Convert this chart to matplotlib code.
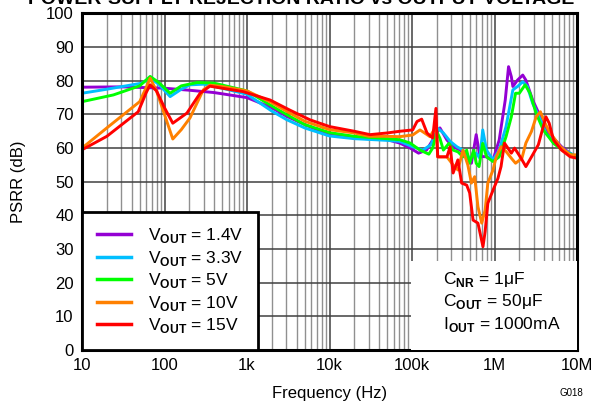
import numpy as np
import matplotlib
matplotlib.use('Agg')
import matplotlib.pyplot as plt
from matplotlib.patches import Rectangle

plt.rcParams['font.family'] = ['Liberation Sans', 'DejaVu Sans']
plt.rcParams['mathtext.fontset'] = 'custom'
plt.rcParams['mathtext.rm'] = 'Liberation Sans'
plt.rcParams['mathtext.bf'] = 'Liberation Sans:bold'

# ---- data (frequency in Hz, PSRR in dB) ----
f_14 = [10, 30, 100, 200, 400, 1e3, 2e3, 3e3, 5e3, 7e3, 1e4, 2e4, 5e4, 7.1e4, 9.5e4,
        1.2e5, 1.5e5, 1.78e5, 2.18e5, 2.65e5, 3.15e5, 3.85e5, 4.6e5, 5.25e5, 6e5, 6.6e5,
        7.2e5, 8e5, 9.6e5, 1.14e6, 1.35e6, 1.48e6, 1.6e6, 1.67e6, 1.9e6, 2.2e6, 2.4e6,
        2.9e6, 3.6e6, 4.2e6, 5.2e6, 6.5e6, 8.3e6, 1e7]
db_14 = [78.1, 78.2, 77.8, 77.2, 76.5, 75, 72, 69.5, 67, 65.5, 64, 63, 62.5, 61.5, 60,
         58.5, 59.4, 62.4, 66, 62.4, 60.4, 59.4, 57.4, 55.5, 64, 58,
         57.5, 57.4, 56.5, 62.4, 74.3, 84.2, 81.2, 78.3, 80.2, 81.7, 80.2,
         74.3, 69.3, 65.4, 62.9, 60.4, 58.4, 57.4]

f_33 = [10, 20, 53, 67, 85, 117, 160, 204, 300, 500, 1e3, 2e3, 3e3, 5e3, 1e4, 2e4, 5e4,
        7.1e4, 1.02e5, 1.35e5, 1.7e5, 2.05e5, 2.4e5, 2.9e5, 3.5e5, 4.15e5, 5e5, 6e5, 6.65e5,
        7.2e5, 8e5, 9.6e5, 1.14e6, 1.38e6, 1.67e6, 1.9e6, 2.2e6, 2.5e6, 2.9e6, 3.6e6,
        4.2e6, 5.2e6, 7e6, 1e7]
db_33 = [76.3, 77.5, 79.3, 80.8, 79, 75.3, 77.5, 78.8, 79, 77.8, 76, 71, 68.5, 66, 63.6, 62.8, 62.3,
         62, 60.4, 59.4, 61, 65.9, 64.5, 62, 60.4, 59.4, 57, 58.5, 57,
         65.4, 59.4, 56.5, 59.4, 66.4, 77.3, 78.3, 79.7, 78.3, 73.3, 68.4,
         64.4, 62, 59.4, 57.4]

f_5 = [10, 24, 50, 67, 85, 117, 160, 250, 400, 1e3, 2e3, 3e3, 5e3, 1e4, 2e4, 5e4, 7.1e4,
       9.5e4, 1.25e5, 1.6e5, 1.78e5, 2e5, 2.18e5, 2.4e5, 2.8e5, 3.15e5, 3.6e5, 4.15e5, 4.6e5,
       5e5, 5.6e5, 6e5, 6.5e5, 7.2e5, 8e5, 9.6e5, 1.14e6, 1.38e6, 1.6e6, 1.8e6, 2.0e6,
       2.35e6, 2.7e6, 3.2e6, 3.9e6, 5.2e6, 7e6, 1e7]
db_5 = [73.8, 75.8, 78.5, 81.3, 79.5, 76.3, 78.5, 79.5, 79.3, 77, 72.5, 70, 67, 64.6, 63.5, 62.8, 62.5,
        61.5, 59.4, 58.2, 60, 64.9, 62.9, 59.4, 61.4, 59.4, 58.9, 57.4, 59.4,
        55.5, 59.4, 55.5, 54.5, 61.4, 57.4, 56, 57.4, 63.4, 69.3, 76.3, 76.3,
        78.8, 76.3, 70.3, 65.4, 61.4, 59, 57.4]

f_10 = [10, 20, 50, 60, 67, 80, 100, 126, 160, 204, 295, 355, 500, 1e3, 2e3, 3e3, 5e3, 1e4,
        2e4, 3e4, 5e4, 7.1e4, 1.02e5, 1.25e5, 1.42e5, 1.65e5, 1.95e5, 2.05e5, 2.65e5, 3.15e5,
        3.6e5, 4.15e5, 4.75e5, 5.25e5, 5.75e5, 6.3e5, 7e5, 7.7e5, 8.3e5, 9.6e5, 1.05e6,
        1.2e6, 1.38e6, 1.6e6, 1.8e6, 2.15e6, 2.4e6, 2.8e6, 3.2e6, 3.6e6, 4.1e6, 4.6e6,
        6.3e6, 8.3e6, 1e7]
db_10 = [60, 66, 73.8, 78, 80.8, 77, 70, 62.7, 65.5, 69, 77.3, 78.7, 78.3, 77, 73.5, 71, 68, 65.5,
         64.5, 63.5, 63.5, 63.4, 63.9, 65.4, 64.5, 63.4, 66.4, 57.4, 57.4, 55,
         53.5, 59.4, 55, 49.6, 51.5, 42.6, 37.7, 41.6, 49.6, 53.5, 57.4,
         60.4, 59, 57, 55.5, 57, 61.5, 64.9, 69.3, 70.8, 67.4, 64.9,
         60.4, 58, 58]

f_15 = [10, 20, 48, 60, 67, 80, 100, 126, 187, 270, 355, 890, 1.9e3, 3.3e3, 5.8e3, 1e4, 2e4,
        3.1e4, 5e4, 7.1e4, 1.02e5, 1.15e5, 1.31e5, 1.52e5, 1.78e5, 1.95e5, 2.05e5, 2.65e5,
        2.9e5, 3.15e5, 3.6e5, 4e5, 4.6e5, 5e5, 5.5e5, 6.3e5, 7.25e5, 7.7e5, 8.3e5, 9.6e5,
        1.1e6, 1.2e6, 1.32e6, 1.6e6, 1.75e6, 2.1e6, 2.4e6, 2.9e6, 3.4e6, 3.8e6, 4.2e6,
        4.6e6, 5.2e6, 6.5e6, 8.3e6, 1e7]
db_15 = [59.5, 63.5, 70.8, 76.5, 78.8, 77, 72, 67.4, 70.4, 76.3, 78.4, 76.8, 74.3, 71.3, 68.4, 66.4, 65,
         64, 64.5, 65, 65.4, 67.9, 68.6, 64.5, 63, 71.8, 57.4, 57.4,
         60.4, 52.6, 56.5, 49.6, 49, 46.7, 38.6, 37.7, 30.7, 35.2, 43.6, 47.5,
         51, 54.5, 61.5, 58.5, 60, 57, 54.5, 58, 61, 65.4, 69.3,
         67.4, 62.4, 59.4, 57.4, 57]

labels = ['1.4V', '3.3V', '5V', '10V', '15V']
colors = ['#9400D3', '#00BFFF', '#00FF00', '#FF8000', '#FF0000']
x_ticks = [10, 100, 1e3, 1e4, 1e5, 1e6, 1e7]
x_ticklabels = ['10', '100', '1k', '10k', '100k', '1M', '10M']

fig = plt.figure(figsize=(6.03, 4.03), dpi=100)
ax = fig.add_axes([82 / 603, 53 / 403, 495 / 603, 336.5 / 403])

series = [(f_14, db_14), (f_33, db_33), (f_5, db_5), (f_10, db_10), (f_15, db_15)]
for (f, db), lab, c in zip(series, labels, colors):
    ax.plot(f, db, color=c, lw=2.1, label=r'V$_{\mathbf{OUT}}$ = ' + lab)

ax.set_xscale('log')
ax.set_xlim(10, 1e7)
ax.set_ylim(0, 100)
ax.set_yticks(np.arange(0, 101, 10))
ax.set_xticks(x_ticks)
ax.set_xticklabels(x_ticklabels)
ax.tick_params(which='both', length=0, labelsize=12, pad=6)
ax.grid(which='major', color='#404040', lw=1.1)
ax.grid(which='minor', axis='x', color='#909090', lw=1.0)
ax.set_axisbelow(True)
for s in ax.spines.values():
    s.set_linewidth(2.2)

ax.set_xlabel('Frequency (Hz)', fontsize=12, labelpad=9)
ax.set_ylabel('PSRR (dB)', fontsize=12, labelpad=14)

leg = ax.legend(loc='lower left', bbox_to_anchor=(0, 0), borderaxespad=0, fontsize=12.5,
                fancybox=False, framealpha=1, edgecolor='black', handlelength=2.0,
                handletextpad=0.95, labelspacing=0.2, borderpad=0.85)
leg.get_frame().set_linewidth(2.0)
for h in leg.get_lines():
    h.set_linewidth(2.5)

# condition box
ax.add_patch(Rectangle((0.665, 0), 0.335, 0.265, transform=ax.transAxes,
                       facecolor='white', edgecolor='none', zorder=4))
ax.text(0.73, 0.238, r'C$_{\mathbf{NR}}$ = 1μF' + '\n' + r'C$_{\mathbf{OUT}}$ = 50μF' + '\n'
        + r'I$_{\mathbf{OUT}}$ = 1000mA', transform=ax.transAxes, fontsize=12.5,
        va='top', ha='left', linespacing=1.25, zorder=5)

fig.text(0.5, 1 - 4 / 403, 'POWER-SUPPLY REJECTION RATIO vs OUTPUT VOLTAGE',
         fontsize=14, fontweight='bold', ha='center', va='baseline')
fig.text(560 / 603, 1 - 396 / 403, 'G018', fontsize=7, ha='left', va='baseline')

fig.savefig('out.png', dpi=100)
